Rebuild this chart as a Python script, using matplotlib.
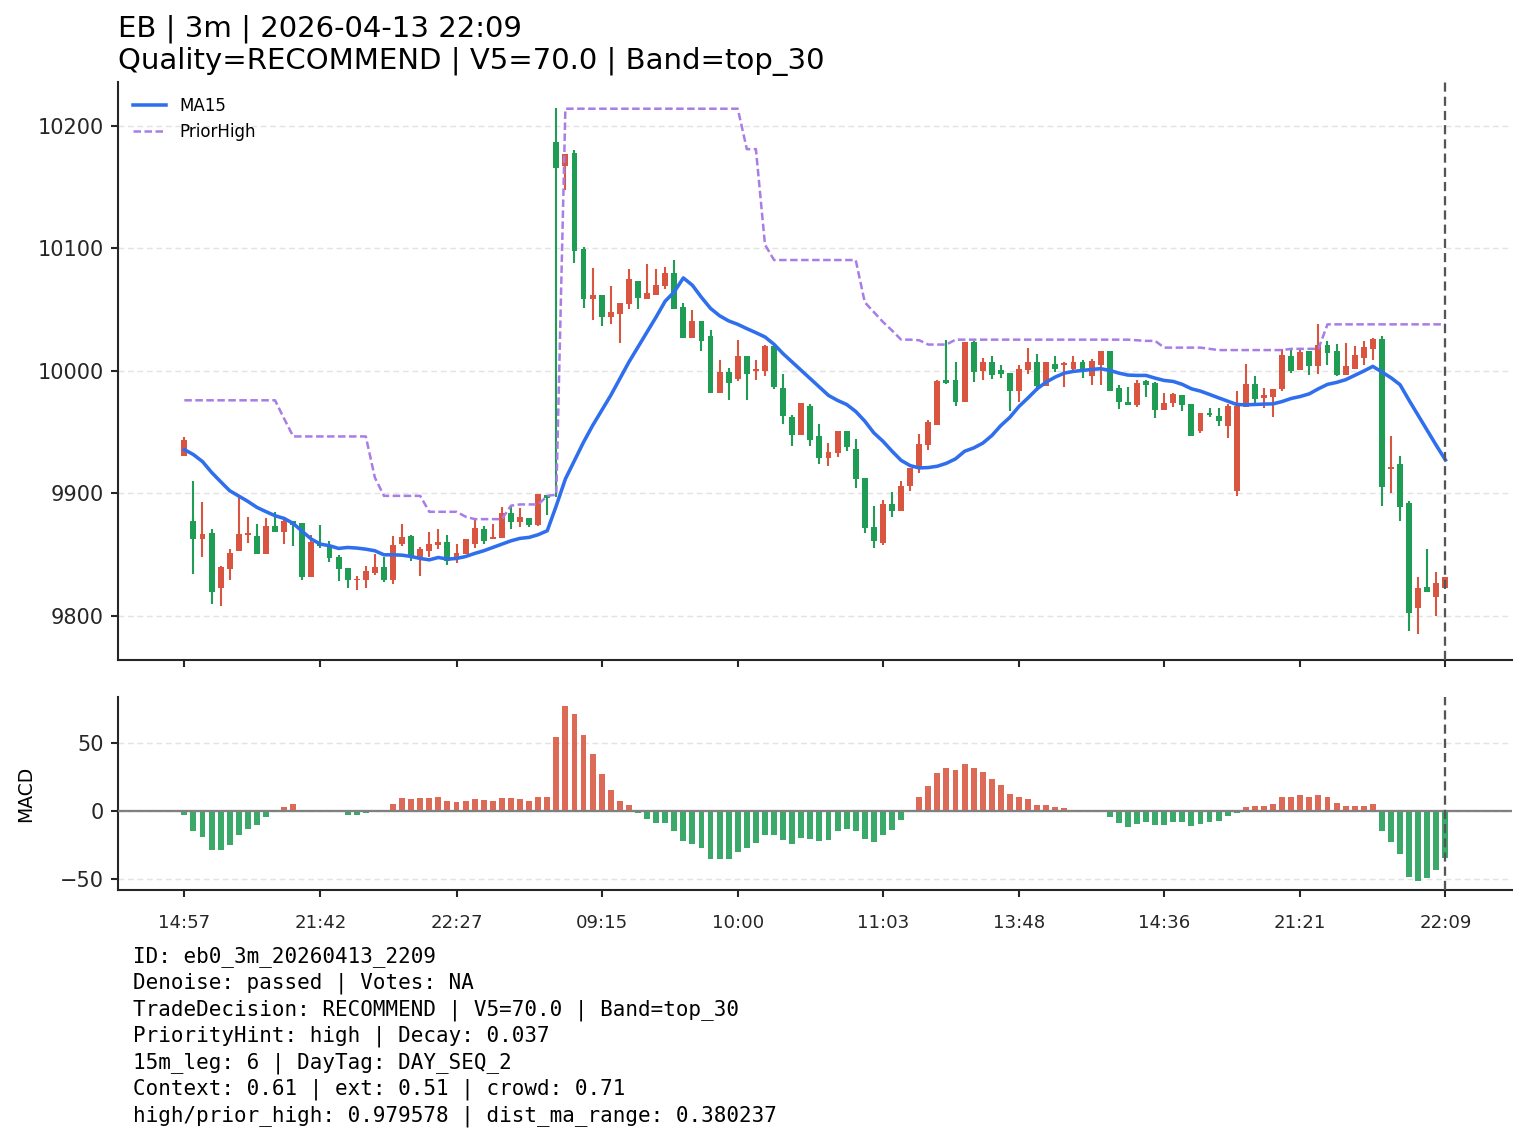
import numpy as np
import matplotlib
matplotlib.use("Agg")
import matplotlib.pyplot as plt

opens = [9930.3, 9877.7, 9862.4, 9867.9, 9823.2, 9838.7, 9852.6, 9866.0, 9864.9, 9850.2,
         9873.6, 9868.2, 9877.7, 9875.5, 9831.9, 9859.4, 9857.3, 9848.3, 9839.3, 9829.2,
         9829.2, 9835.4, 9840.1, 9829.2, 9858.6, 9864.9, 9847.7, 9853.2, 9857.8, 9860.5,
         9846.4, 9850.4, 9858.6, 9871.2, 9862.7, 9863.3, 9884.3, 9876.3, 9880.2, 9874.4,
         9898.9, 10186.6, 10167.5, 10177.6, 10099.4, 10058.8, 10061.8, 10044.0, 10046.5, 10054.7,
         10073.2, 10059.0, 10062.0, 10069.4, 10079.8, 10051.9, 10026.9, 10040.5, 10028.2, 9981.9,
         9998.8, 9993.3, 10011.9, 9999.9, 9999.9, 10020.0, 9985.7, 9962.0, 9947.5, 9971.0,
         9947.2, 9928.7, 9932.8, 9951.3, 9936.3, 9912.6, 9872.8, 9859.2, 9891.3, 9885.3,
         9906.3, 9921.1, 9939.3, 9956.2, 9992.8, 9992.2, 9974.5, 10023.3, 9999.9, 10007.0,
         10000.4, 9998.2, 9984.0, 10000.4, 10007.0, 9987.3, 10005.9, 10005.0, 10001.8, 10007.0,
         9995.5, 10004.5, 10016.0, 9986.0, 9975.0, 9971.8, 9991.4, 9990.0, 9967.7, 9974.0,
         9980.5, 9973.1, 9950.8, 9965.8, 9962.8, 9954.9, 9901.7, 9970.4, 9989.0, 9978.0,
         9978.6, 9985.4, 10011.9, 10000.4, 10016.2, 10003.9, 10020.9, 10016.0, 9996.3, 10001.8,
         10010.8, 10017.9, 10026.0, 9919.7, 9924.3, 9891.9, 9806.8, 9824.0, 9815.5, 9823.2]
highs = [9946.4, 9910.4, 9893.3, 9871.2, 9840.9, 9854.8, 9896.8, 9880.4, 9875.0, 9879.6,
         9885.1, 9880.4, 9877.7, 9875.5, 9866.3, 9874.4, 9861.3, 9849.9, 9839.3, 9832.4,
         9840.6, 9850.4, 9848.5, 9865.4, 9875.0, 9866.0, 9856.4, 9868.7, 9871.2, 9866.3,
         9858.9, 9863.0, 9878.3, 9873.1, 9875.0, 9889.2, 9890.8, 9888.3, 9880.2, 9899.5,
         9898.9, 10214.4, 10177.1, 10180.4, 10100.8, 10083.8, 10061.8, 10069.1, 10055.2, 10083.0,
         10073.2, 10087.1, 10083.0, 10085.2, 10090.4, 10055.8, 10049.5, 10040.5, 10033.1, 10008.6,
         10002.0, 10024.9, 10011.9, 10008.6, 10020.9, 10020.0, 9997.1, 9964.4, 9973.4, 9973.1,
         9956.8, 9941.5, 9951.3, 9951.3, 9944.5, 9912.6, 9890.0, 9894.9, 9901.4, 9910.4,
         9921.1, 9948.9, 9960.3, 9992.2, 10025.0, 10007.0, 10023.3, 10024.1, 10010.2, 10011.9,
         10004.5, 9998.2, 10004.5, 10018.4, 10013.5, 10007.0, 10011.9, 10007.2, 10011.9, 10008.6,
         10009.4, 10016.0, 10016.0, 9988.1, 9986.8, 9992.2, 9992.2, 9990.9, 9982.1, 9981.6,
         9980.5, 9973.1, 9965.8, 9969.9, 9969.9, 9973.1, 9983.5, 10005.3, 9995.5, 9986.2,
         9985.4, 10018.1, 10017.3, 10017.3, 10016.2, 10038.0, 10024.1, 10022.2, 10022.6, 10020.0,
         10024.1, 10026.9, 10028.2, 9947.2, 9930.9, 9894.1, 9831.4, 9854.5, 9836.0, 9831.9]
lows = [9930.3, 9834.6, 9848.5, 9810.1, 9808.5, 9829.7, 9852.6, 9859.7, 9850.2, 9850.2,
        9868.2, 9858.4, 9857.3, 9829.7, 9831.9, 9855.1, 9844.2, 9828.4, 9822.4, 9821.0,
        9823.2, 9833.3, 9827.8, 9825.9, 9856.7, 9844.7, 9832.4, 9847.7, 9854.5, 9841.4,
        9843.6, 9850.4, 9855.1, 9858.4, 9862.7, 9863.3, 9870.9, 9872.3, 9872.3, 9873.1,
        9882.0, 9896.8, 10147.6, 10088.2, 10051.4, 10041.6, 10036.7, 10038.3, 10022.8, 10050.6,
        10050.6, 10059.0, 10062.0, 10066.9, 10050.6, 10026.9, 10026.9, 10016.2, 9981.9, 9981.9,
        9976.4, 9991.7, 9976.4, 9992.8, 9996.0, 9985.1, 9956.8, 9938.5, 9947.5, 9938.5,
        9924.1, 9922.2, 9929.5, 9935.0, 9904.2, 9867.3, 9855.4, 9857.5, 9880.4, 9885.3,
        9902.2, 9916.4, 9935.2, 9956.2, 9989.5, 9971.2, 9974.5, 9990.9, 9992.8, 9993.3,
        9994.4, 9967.1, 9975.0, 9997.7, 9984.0, 9987.3, 9999.0, 9986.8, 10000.4, 9994.4,
        9988.1, 9988.1, 9984.0, 9968.5, 9972.3, 9970.4, 9978.6, 9961.7, 9967.7, 9970.4,
        9967.1, 9946.7, 9949.1, 9962.2, 9955.4, 9945.3, 9897.6, 9970.4, 9974.2, 9969.9,
        9962.2, 9983.5, 9998.2, 10000.4, 9996.3, 9997.1, 10004.5, 9995.5, 9996.3, 10001.8,
        10004.5, 10009.1, 9890.0, 9900.1, 9877.2, 9787.7, 9785.5, 9819.9, 9800.0, 9823.2]
closes = [9943.7, 9862.4, 9867.1, 9819.9, 9840.1, 9851.5, 9867.1, 9867.9, 9850.2, 9873.6,
          9868.2, 9877.7, 9873.9, 9831.9, 9860.0, 9856.7, 9846.9, 9837.9, 9829.2, 9830.3,
          9836.8, 9840.1, 9829.2, 9858.1, 9864.6, 9849.1, 9854.8, 9858.6, 9860.5, 9845.0,
          9851.3, 9863.0, 9871.4, 9861.3, 9864.6, 9884.3, 9876.6, 9881.0, 9874.4, 9899.5,
          9896.3, 10165.9, 10177.1, 10098.0, 10058.8, 10061.8, 10044.0, 10047.9, 10055.2, 10074.9,
          10059.6, 10063.4, 10069.9, 10079.8, 10050.6, 10026.9, 10040.5, 10024.4, 9981.9, 9998.9,
          9990.0, 10011.9, 9997.1, 10001.5, 10020.0, 9986.8, 9963.3, 9947.5, 9973.4, 9943.4,
          9928.7, 9934.2, 9951.3, 9937.7, 9911.8, 9871.4, 9860.8, 9891.3, 9885.3, 9906.3,
          9921.1, 9940.7, 9957.9, 9991.7, 9990.0, 9974.5, 10023.3, 9999.0, 10007.0, 9996.3,
          9997.7, 9983.5, 10001.2, 10007.0, 9987.3, 10007.0, 10001.8, 10006.4, 10007.0, 10001.8,
          10007.8, 10016.0, 9984.0, 9974.5, 9972.3, 9989.8, 9988.7, 9968.2, 9974.0, 9980.8,
          9971.8, 9946.7, 9965.8, 9963.6, 9959.0, 9971.2, 9971.2, 9989.0, 9976.7, 9980.0,
          9985.4, 10012.7, 9999.9, 10015.4, 10003.9, 10020.9, 10014.6, 9996.3, 10003.7, 10012.7,
          10019.5, 10026.0, 9905.5, 9921.9, 9888.6, 9802.7, 9823.2, 9819.9, 9827.0, 9831.9]
ma15 = [9935.8, 9931.7, 9926.0, 9917.2, 9909.6, 9902.2, 9897.9, 9893.5, 9888.6, 9885.1,
        9881.8, 9879.6, 9875.5, 9869.0, 9862.7, 9858.6, 9857.3, 9855.1, 9855.9, 9855.4,
        9854.5, 9853.2, 9849.9, 9849.9, 9849.6, 9848.5, 9846.9, 9845.8, 9847.7, 9846.4,
        9846.9, 9848.5, 9851.0, 9853.2, 9855.9, 9858.6, 9861.3, 9863.3, 9864.1, 9866.3,
        9869.5, 9890.0, 9911.8, 9926.8, 9941.8, 9955.4, 9967.7, 9980.0, 9993.6, 10007.2,
        10019.5, 10031.8, 10044.0, 10056.9, 10064.5, 10075.9, 10069.9, 10060.0, 10051.0, 10045.0,
        10040.8, 10038.0, 10034.5, 10031.2, 10027.7, 10021.7, 10014.0, 10007.2, 10000.4, 9993.6,
        9986.8, 9980.0, 9975.9, 9972.6, 9966.9, 9959.0, 9949.4, 9942.6, 9934.5, 9927.0,
        9922.7, 9920.8, 9921.1, 9922.2, 9924.6, 9928.2, 9934.4, 9937.1, 9941.0, 9947.2,
        9955.4, 9962.2, 9971.0, 9978.0, 9985.4, 9990.9, 9995.0, 9998.2, 9999.6, 10000.4,
        10001.2, 10001.8, 10000.4, 9998.2, 9996.6, 9996.3, 9996.3, 9994.1, 9992.2, 9991.4,
        9989.0, 9985.4, 9983.5, 9980.8, 9978.0, 9975.3, 9972.6, 9972.3, 9972.6, 9972.9,
        9973.1, 9975.0, 9977.5, 9979.1, 9981.3, 9985.4, 9989.0, 9990.6, 9992.8, 9996.3,
        9999.9, 10003.7, 9999.0, 9994.4, 9988.7, 9975.9, 9963.6, 9951.3, 9939.1, 9927.3]
prior_high = [9976, 9976, 9976, 9976, 9976, 9976, 9976, 9976, 9976, 9976,
              9976, 9961, 9946.5, 9946.5, 9946.5, 9946.5, 9946.5, 9946.5, 9946.5, 9946.5,
              9946.5, 9913, 9898, 9898, 9898, 9898, 9898, 9885, 9885, 9885,
              9885, 9881, 9879, 9879, 9879, 9879, 9890, 9891, 9891, 9891,
              9898, 9899, 10214, 10214, 10214, 10214, 10214, 10214, 10214, 10214,
              10214, 10214, 10214, 10214, 10214, 10214, 10214, 10214, 10214, 10214,
              10214, 10214, 10181, 10181, 10103, 10090.5, 10090.5, 10090.5, 10090.5, 10090.5,
              10090.5, 10090.5, 10090.5, 10090.5, 10090.5, 10056, 10048, 10040, 10033, 10025.5,
              10025.5, 10025, 10021.5, 10021.5, 10021.5, 10025.5, 10025.5, 10025.5, 10025.5, 10025.5,
              10025.5, 10025.5, 10025.5, 10025.5, 10025.5, 10025.5, 10025.5, 10025.5, 10025.5, 10025.5,
              10025.5, 10025.5, 10025.5, 10025.5, 10025.5, 10025, 10024.5, 10024.5, 10019, 10019,
              10019, 10019, 10019, 10018, 10017, 10017, 10017, 10017, 10017, 10017,
              10017, 10017, 10018, 10018, 10018, 10018, 10038, 10038, 10038, 10038,
              10038, 10038, 10038, 10038, 10038, 10038, 10038, 10038, 10038, 10038]
macd_hist = [-2.5, -14.3, -19.3, -28.9, -28.9, -25.2, -17.8, -12.8, -10.4, -4.4,
             -0.3, 2.7, 5.0, -0.5, 0.5, 1.2, 0.3, -0.4, -3.0, -3.0,
             -1.5, 0.1, 0.1, 5.0, 9.4, 8.7, 9.4, 9.4, 10.1, 7.2,
             6.4, 7.2, 8.7, 7.9, 7.2, 9.4, 9.4, 8.7, 7.2, 10.1,
             10.1, 54.7, 77.7, 71.8, 56.2, 42.1, 27.2, 15.3, 7.2, 4.2,
             -1.5, -5.9, -8.9, -8.9, -14.8, -22.2, -24.4, -27.3, -35.5, -35.5,
             -35.5, -30.3, -27.3, -23.6, -17.7, -17.7, -21.4, -24.4, -20.0, -20.8,
             -22.2, -21.0, -14.8, -12.8, -14.3, -20.2, -22.9, -17.7, -13.6, -6.2,
             1.2, 10.1, 18.3, 28.0, 31.7, 30.2, 34.7, 31.7, 28.7, 23.5,
             19.1, 12.4, 10.1, 8.7, 4.2, 4.2, 2.7, 2.0, 0.3, -0.3,
             -0.3, -0.2, -4.4, -8.9, -11.8, -9.6, -8.1, -10.4, -10.4, -8.1,
             -8.1, -11.1, -9.6, -8.1, -7.4, -3.7, -1.5, 2.7, 3.5, 3.5,
             5.0, 10.1, 10.1, 11.6, 10.1, 11.6, 10.1, 5.7, 3.5, 3.5,
             3.5, 5.0, -14.8, -22.9, -31.8, -48.8, -51.7, -49.5, -43.6, -34.7]

tick_idx = [0, 15, 30, 46, 61, 77, 92, 108, 123, 139]
tick_labels = ["14:57", "21:42", "22:27", "09:15", "10:00", "11:03", "13:48", "14:36", "21:21", "22:09"]
marker_idx = 139

title_text = "EB | 3m | 2026-04-13 22:09\nQuality=RECOMMEND | V5=70.0 | Band=top_30"
info_lines = [
    "ID: eb0_3m_20260413_2209",
    "Denoise: passed | Votes: NA",
    "TradeDecision: RECOMMEND | V5=70.0 | Band=top_30",
    "PriorityHint: high | Decay: 0.037",
    "15m_leg: 6 | DayTag: DAY_SEQ_2",
    "Context: 0.61 | ext: 0.51 | crowd: 0.71",
    "high/prior_high: 0.979578 | dist_ma_range: 0.380237",
]

UP = "#d9553f"
DOWN = "#1f9d55"

o = np.array(opens); h = np.array(highs); l = np.array(lows); c = np.array(closes)
x = np.arange(len(c))
up = c >= o
cols = np.where(up, UP, DOWN)
body_lo = np.minimum(o, c)
body_h = np.maximum(np.abs(c - o), 0.8)

fig = plt.figure(figsize=(1527 / 150, 1143 / 150), dpi=150)
ax = fig.add_axes([0.0773, 0.4226, 0.9127, 0.5057])
ax2 = fig.add_axes([0.0773, 0.2213, 0.9127, 0.1689], sharex=ax)

ax.vlines(x, l, h, colors=cols, linewidth=1.0, zorder=2)
ax.bar(x, body_h, bottom=body_lo, width=0.65, color=cols, linewidth=0, zorder=2)
ax.plot(x, ma15, color="#2f6fed", lw=1.7, label="MA15", zorder=4)
ax.plot(x, prior_high, color="#a87de8", lw=1.2, ls=(0, (3.0, 1.4)), label="PriorHigh", zorder=3)
ax.axvline(marker_idx, color="#555555", lw=1.1, ls=(0, (4, 2.2)), zorder=5)

ax.legend(loc="upper left", frameon=False, fontsize=8)
ax.set_title(title_text, loc="left", fontsize=14, pad=6)
ax.grid(axis="y", color="#e3e3e3", lw=0.7, ls=(0, (4, 2.5)))
ax.set_axisbelow(True)
ax.tick_params(axis="y", labelsize=10)
ax.tick_params(axis="x", labelbottom=False)

mh = np.array(macd_hist)
mcols = np.where(mh >= 0, UP, DOWN)
ax2.bar(x, mh, width=0.65, color=mcols, alpha=0.88, linewidth=0, zorder=2)
ax2.axhline(0, color="#808080", lw=1.1, zorder=3)
ax2.axvline(marker_idx, color="#555555", lw=1.1, ls=(0, (4, 2.2)), zorder=5)
ax2.grid(axis="y", color="#e3e3e3", lw=0.7, ls=(0, (4, 2.5)))
ax2.set_axisbelow(True)
ax2.set_ylabel("MACD", fontsize=9, labelpad=11.5)
ax2.tick_params(axis="y", labelsize=10)
ax2.set_xticks(tick_idx)
ax2.set_xticklabels(tick_labels)

for a in (ax, ax2):
    a.spines["top"].set_visible(False)
    a.spines["right"].set_visible(False)
    for s in ("left", "bottom"):
        a.spines[s].set_color("#262626")
        a.spines[s].set_linewidth(1.0)
    a.tick_params(colors="#262626", length=3.5, width=1.0)
ax2.tick_params(axis="x", labelsize=8.7, pad=7.8)

fig.text(0.087, 0.172, "\n".join(info_lines), family="DejaVu Sans Mono",
         fontsize=10, va="top", ha="left", linespacing=1.32)

fig.savefig("out.png", dpi=150)
